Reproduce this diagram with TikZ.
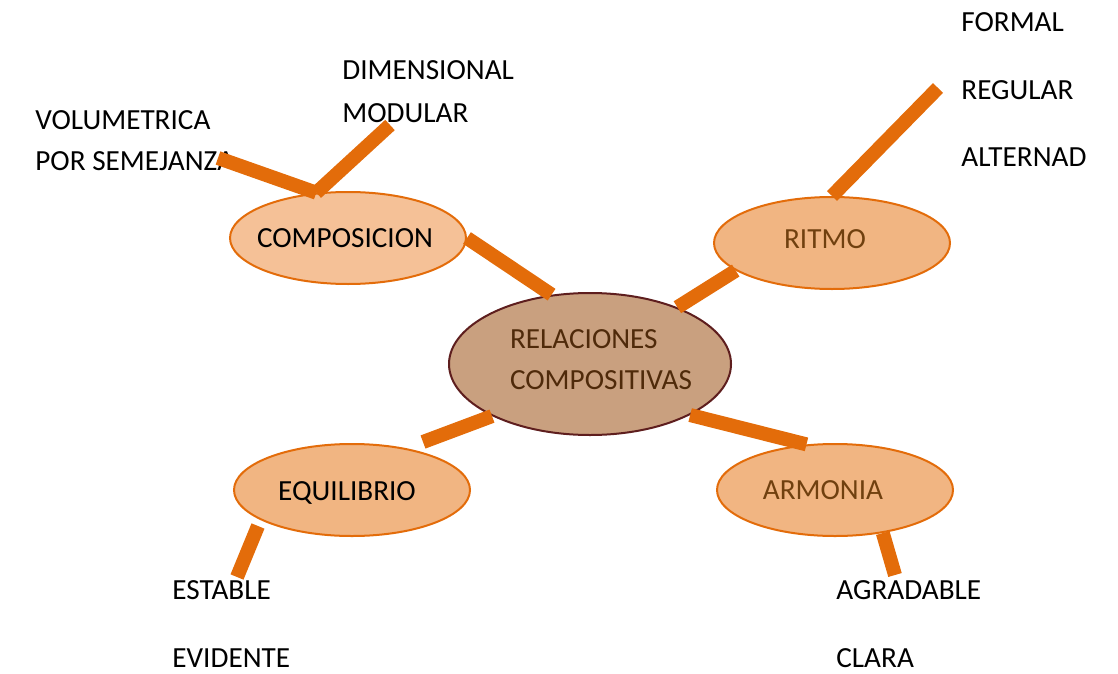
\documentclass[tikz,border=0pt]{standalone}
\usepackage{fontspec}
\setmainfont{Carlito}
\usepackage{xcolor}
\usepackage{tikz}
\usetikzlibrary{shapes.geometric}

\definecolor{barorange}{HTML}{E36C0A}
\definecolor{peachlight}{HTML}{F5C197}
\definecolor{peach}{HTML}{F1B582}
\definecolor{corefill}{HTML}{C9A07F}
\definecolor{corerim}{HTML}{5E1E1E}
\definecolor{coretext}{HTML}{4F2A0A}
\definecolor{browntext}{HTML}{70400F}

\begin{document}
\begin{tikzpicture}[
  x=0.5pt, y=-0.5pt,
  bubble/.style={ellipse, draw=barorange, line width=1pt, fill=peach, inner sep=0pt,
    minimum width=118pt, minimum height=46pt},
  core/.style={ellipse, draw=corerim, line width=1pt, fill=corefill, inner sep=0pt,
    minimum width=141pt, minimum height=71pt},
  txt/.style={font=\fontsize{14.6}{20.5}\selectfont, inner sep=0pt},
  word/.style={font=\fontsize{14.6}{17}\selectfont, anchor=base west, inner sep=0pt},
  bar/.style={barorange, line width=7pt},
]
\useasboundingbox (0,0) rectangle (1118,674);

% ellipses
\node[core, label={[txt, text=coretext, align=left, xshift=5.5pt, yshift=2pt]center:RELACIONES\\COMPOSITIVAS}] (rel) at (590,364) {};
\node[bubble, fill=peachlight, label={[txt, xshift=-1.5pt]center:COMPOSICION}] (comp) at (348,238) {};
\node[bubble, label={[txt, text=browntext, xshift=-3.5pt, yshift=2pt]center:RITMO}] (ritmo) at (832,243) {};
\node[bubble, label={[txt, xshift=-2.5pt, yshift=-1.5pt]center:EQUILIBRIO}] (equi) at (352,490) {};
\node[bubble, label={[txt, text=browntext, xshift=-6pt]center:ARMONIA}] (arm) at (835,490) {};

% word lists
\node[word] (volu) at (35,129) {VOLUMETRICA};
\node[word] (seme) at (35,170) {POR SEMEJANZA};
\node[word] (dime) at (342,80) {DIMENSIONAL};
\node[word] (modu) at (342,122) {MODULAR};
\node[word] (form) at (961,32) {FORMAL};
\node[word] (regu) at (961,99) {REGULAR};
\node[word] (alte) at (961,166) {ALTERNAD};
\node[word] (esta) at (172,599) {ESTABLE};
\node[word] (evid) at (172,667) {EVIDENTE};
\node[word] (agra) at (836,599) {AGRADABLE};
\node[word] (clar) at (836,667) {CLARA};

% free ends of the bars
\coordinate (volu-end) at (218,158);
\coordinate (dime-end) at (390,125);
\coordinate (ritmo-end) at (938,88);
\coordinate (equi-in) at (423,442);
\coordinate (equi-low) at (258,526);
\coordinate (esta-end) at (237,577);
\coordinate (agra-end) at (895,575);

% bars
\draw[bar] (comp.east) -- (rel.119);
\draw[bar] (ritmo.196) -- (rel.33);
\draw[bar] (rel.208) -- (equi-in);
\draw[bar] (rel.-27) -- (arm.122);
\draw[bar] (comp.125) -- (volu-end);
\draw[bar] (comp.125) -- (dime-end);
\draw[bar] (ritmo.north) -- (ritmo-end);
\draw[bar] (equi-low) -- (esta-end);
\draw[bar] (arm.-42) -- (agra-end);
\end{tikzpicture}
\end{document}
